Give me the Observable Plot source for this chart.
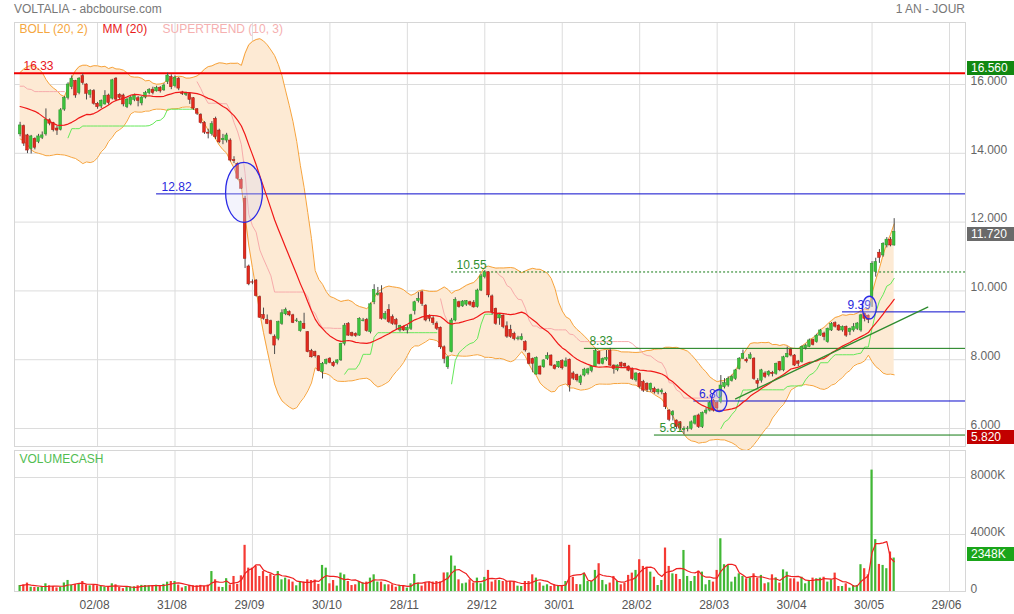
<!DOCTYPE html>
<html><head><meta charset="utf-8">
<script src="https://cdn.jsdelivr.net/npm/d3@7"></script>
<script src="https://cdn.jsdelivr.net/npm/@observablehq/plot@0.6"></script>
<style>
body{margin:0;background:#fff;font-family:"Liberation Sans",Arial,sans-serif;}
#wrap{position:relative;width:1014px;height:614px;overflow:hidden;background:#fff;}
.hdr{position:absolute;top:2px;font-size:12px;line-height:14px;color:#777;}
.tag{position:absolute;left:967px;width:47px;height:14px;line-height:14px;font-size:12px;color:#fff;padding-left:4px;box-sizing:border-box;}
svg{position:absolute;left:0;}
</style></head><body><div id="wrap"></div>
<script>
// ---------------- DATA ----------------
const open = [
14.55,14.79,14.52,14.13,14.42,14.33,14.45,14.55,14.96,14.88,
14.72,14.68,15.27,15.61,15.92,16.10,15.75,16.24,16.00,15.70,
15.81,15.44,15.36,15.42,15.68,15.59,16.17,15.70,15.68,15.34,
15.42,15.55,15.60,15.45,15.62,15.75,15.85,15.80,15.90,15.83,
16.07,16.22,15.95,16.17,15.75,15.70,15.72,15.60,15.28,15.12,
14.88,14.60,14.56,15.00,14.66,14.38,14.37,14.37,13.80,13.69,
13.23,12.68,10.71,10.25,10.30,9.82,9.30,9.16,9.12,8.67,
8.61,9.04,9.32,9.38,9.29,9.12,8.83,9.04,8.80,8.25,
8.22,8.10,7.64,7.88,8.03,7.91,7.90,7.98,8.46,9.04,
8.77,8.75,8.70,9.12,9.16,8.80,9.67,9.88,9.93,9.19,
9.45,9.24,9.15,8.85,8.95,8.85,8.90,9.41,9.70,9.96,
9.57,9.26,9.20,9.05,8.93,8.36,7.78,8.22,9.14,9.67,
9.55,9.60,9.67,9.66,9.53,10.01,10.40,10.54,9.84,9.48,
9.20,9.28,8.97,8.87,8.75,8.60,8.58,8.51,8.17,8.02,
7.57,7.80,7.78,8.02,8.12,7.83,7.78,7.96,7.80,8.00,
7.60,7.55,7.32,7.54,7.60,7.67,7.80,8.22,7.88,8.00,
8.25,7.83,7.70,7.90,7.88,7.80,7.73,7.40,7.59,7.35,
7.30,7.12,7.15,7.05,7.05,7.01,6.52,6.38,6.23,6.18,
5.95,5.98,5.99,6.14,6.38,6.04,6.45,6.52,6.81,6.74,
6.77,7.20,7.25,7.38,7.44,7.73,8.03,8.00,8.03,8.03,
7.38,7.39,7.60,7.55,7.62,7.59,7.93,7.69,8.07,8.29,
8.12,7.95,7.93,8.33,8.37,8.57,8.51,8.70,8.76,8.51,
8.85,9.06,8.99,8.85,8.95,8.80,8.85,8.90,8.85,9.33,
9.28,9.82,10.55,11.11,11.03,11.32,11.49,11.32];
const high = [
14.90,14.82,14.55,14.52,14.45,14.55,14.62,15.29,15.00,14.90,
14.78,15.30,15.65,16.05,16.25,16.12,16.20,16.30,16.02,15.85,
15.85,15.48,15.55,15.82,15.72,16.15,16.20,15.73,15.72,15.60,
15.65,15.72,15.65,15.65,15.80,15.88,15.92,15.95,15.94,16.02,
16.33,16.28,16.25,16.20,15.80,15.78,15.76,15.62,15.30,15.15,
14.92,14.70,14.92,15.05,14.70,14.55,14.58,14.42,13.90,13.72,
13.28,12.75,10.75,10.32,10.33,9.85,9.50,9.30,9.15,8.72,
9.12,9.45,9.50,9.42,9.32,9.20,9.12,9.35,8.82,8.30,
8.25,8.12,7.92,8.02,8.06,7.95,8.00,8.48,9.05,9.08,
8.80,8.78,9.22,9.20,9.20,9.65,10.18,10.10,10.15,9.40,
9.60,9.30,9.20,9.00,8.98,9.00,9.32,9.70,9.95,10.00,
9.60,9.30,9.25,9.10,8.95,8.40,8.10,9.20,9.80,9.70,
9.72,9.72,9.70,9.72,10.05,10.48,10.59,10.55,9.88,9.50,
9.32,9.30,9.10,9.00,8.80,8.68,8.75,8.55,8.20,8.05,
8.08,7.82,8.00,8.20,8.14,7.86,7.95,8.00,8.05,8.02,
7.65,7.58,7.55,7.75,7.75,7.82,8.30,8.25,8.05,8.27,
8.33,7.85,7.85,7.93,7.90,7.82,7.76,7.62,7.62,7.40,
7.33,7.32,7.20,7.15,7.15,7.05,6.55,6.52,6.25,6.20,
6.05,6.06,6.22,6.38,6.42,6.48,6.60,6.78,6.85,6.78,
7.54,7.45,7.50,7.55,7.72,8.06,8.28,8.05,8.20,8.06,
7.45,7.72,7.65,7.68,7.66,7.90,7.95,8.10,8.37,8.33,
8.15,7.98,8.40,8.45,8.60,8.60,8.74,8.88,8.80,8.92,
9.08,9.10,9.02,8.98,8.98,8.92,9.05,9.08,9.32,9.36,
9.30,10.85,10.95,11.20,11.40,11.55,11.55,12.10];
const low = [
14.48,14.20,13.99,13.98,14.10,14.28,14.40,14.50,14.80,14.62,
14.52,14.65,15.22,15.55,15.85,15.60,15.70,15.98,15.55,15.60,
15.40,15.28,15.30,15.40,15.40,15.55,15.50,15.55,15.35,15.30,
15.38,15.50,15.35,15.38,15.58,15.70,15.70,15.78,15.75,15.80,
16.00,15.85,15.90,15.82,15.68,15.65,15.42,15.25,15.10,14.85,
14.55,14.42,14.50,14.40,14.28,14.25,14.30,13.75,13.70,13.22,
12.95,10.65,10.15,10.18,9.82,9.20,9.15,9.02,8.72,8.15,
8.55,9.00,9.28,9.25,9.05,9.08,8.80,8.88,8.20,8.05,
8.05,7.65,7.44,7.85,7.88,7.78,7.85,7.95,8.40,8.68,
8.66,8.65,8.68,9.10,8.80,8.75,9.60,9.85,9.15,9.15,
9.05,9.00,8.85,8.80,8.82,8.75,8.85,9.30,9.65,9.55,
9.10,9.10,9.00,8.85,8.30,7.88,7.72,8.20,9.10,9.50,
9.52,9.55,9.55,9.50,9.50,9.98,10.35,9.80,9.30,9.00,
9.00,8.90,8.62,8.62,8.55,8.55,8.55,8.22,7.85,7.62,
7.55,7.55,7.75,7.98,7.80,7.70,7.75,7.70,7.78,7.06,
7.40,7.35,7.25,7.50,7.55,7.62,7.78,7.85,7.85,7.95,
7.80,7.58,7.65,7.75,7.75,7.65,7.40,7.35,7.15,7.05,
7.05,7.05,7.00,6.98,6.98,6.55,6.20,6.22,5.98,5.95,
5.82,5.90,5.95,6.10,6.00,6.00,6.40,6.48,6.48,6.50,
6.72,7.15,7.20,7.35,7.40,7.70,8.00,7.90,8.00,7.40,
7.15,7.32,7.45,7.50,7.50,7.55,7.65,7.65,8.05,8.08,
7.80,7.80,7.90,8.28,8.35,8.40,8.48,8.68,8.55,8.48,
8.82,8.92,8.82,8.80,8.65,8.70,8.80,8.85,8.80,9.10,
9.05,9.52,10.40,10.80,10.98,11.25,11.28,11.30];
const close = [
14.81,14.28,14.08,14.49,14.16,14.49,14.52,14.98,14.86,14.67,
14.66,15.25,15.61,16.00,16.17,15.68,16.17,16.04,15.73,15.81,
15.44,15.34,15.52,15.66,15.46,16.12,15.56,15.61,15.42,15.56,
15.62,15.68,15.52,15.62,15.75,15.84,15.75,15.90,15.80,15.97,
16.26,15.92,16.20,15.88,15.72,15.74,15.55,15.30,15.15,14.88,
14.60,14.57,14.85,14.47,14.32,14.42,14.52,13.79,13.77,13.26,
12.97,10.93,10.19,10.24,9.85,9.22,9.19,9.04,8.75,8.41,
9.09,9.35,9.45,9.29,9.07,9.14,9.09,8.90,8.22,8.07,
8.10,7.67,7.88,7.99,7.91,7.81,7.98,8.46,8.99,8.70,
8.69,8.69,9.19,9.14,8.83,9.61,10.03,9.92,9.19,9.33,
9.09,9.04,9.02,8.98,8.85,8.92,9.29,9.67,9.77,9.62,
9.14,9.19,9.06,8.90,8.36,8.02,8.07,9.14,9.74,9.53,
9.69,9.70,9.60,9.52,10.01,10.42,10.54,9.87,9.38,9.04,
9.30,8.95,8.67,8.66,8.60,8.62,8.66,8.27,7.88,7.88,
8.05,7.57,7.98,8.11,7.83,7.73,7.93,7.75,7.95,7.25,
7.45,7.40,7.51,7.71,7.72,7.80,8.25,7.88,8.02,8.05,
7.83,7.73,7.83,7.80,7.80,7.68,7.44,7.60,7.20,7.10,
7.12,7.30,7.05,7.12,7.10,6.62,6.25,6.48,6.04,6.00,
5.99,6.00,6.18,6.35,6.04,6.45,6.52,6.74,6.52,6.58,
7.25,7.32,7.44,7.50,7.69,8.03,8.17,7.95,8.13,7.44,
7.30,7.69,7.50,7.65,7.58,7.88,7.69,8.07,8.17,8.12,
7.83,7.88,8.37,8.41,8.56,8.43,8.70,8.85,8.66,8.90,
9.04,8.96,8.85,8.95,8.70,8.90,8.95,9.05,9.29,9.19,
9.16,10.79,10.84,10.96,11.37,11.49,11.32,11.72];
// volume in thousands (K)
const volume = [
420,470,590,300,280,280,350,540,400,350,
250,300,600,775,450,500,500,700,450,400,
430,400,350,300,330,540,470,280,200,300,
320,330,400,430,420,400,420,440,350,500,
655,700,700,450,250,350,420,400,400,430,
350,450,1400,820,300,280,900,450,1055,500,
1100,3240,1640,1640,1760,1055,1400,1055,1200,1055,
1400,820,940,820,660,400,660,660,820,770,
800,500,1830,1640,540,770,380,1290,1170,700,
420,470,700,610,660,940,1170,660,660,470,
470,470,300,420,380,230,540,1200,590,380,
590,660,660,700,660,1300,1310,2490,1780,820,
540,590,820,590,940,540,990,1480,660,770,
770,700,700,700,680,375,350,700,700,1170,
940,610,375,470,350,470,375,375,700,3240,
1000,490,470,1290,700,700,1480,1950,775,470,
590,1055,700,470,590,1130,1290,1480,2230,1760,
1710,1360,1000,420,775,3050,1760,1240,1200,840,
2880,1055,700,1055,1430,1360,470,775,660,1480,
3700,1880,1830,660,1000,1240,1055,890,960,1240,
940,1130,540,610,1170,960,590,1520,1360,890,
890,660,1000,540,775,940,890,940,1000,660,
820,1290,350,350,540,235,420,420,1880,1600,
1170,8520,3640,1900,1830,1600,2770,2348];
// Bollinger / MM values for the first 19 sessions (earlier history not shown)
const bollUpStart  = [16.35,16.45,16.52,16.55,16.52,16.45,16.35,16.15,16.00,15.90,15.82,15.70,15.65,15.90,16.20,16.40,16.52,16.56,16.56];
const bollMidStart = [15.36,15.33,15.30,15.26,15.22,15.16,15.08,15.00,14.93,14.87,14.82,14.81,14.82,14.85,14.90,14.96,15.03,15.08,15.13];
const bollLoStart  = [14.42,14.35,14.25,14.10,14.03,14.00,13.97,13.93,13.93,13.95,13.97,13.96,13.95,13.92,13.88,13.85,13.78,13.70,13.75];
// date ticks (session index -> label)
const dateTickBars   = [21,42,63,84,105,126,147,168,189,210,231,252];
const dateTickLabels = ["02/08","31/08","29/09","30/10","28/11","29/12","30/01","28/02","28/03","30/04","30/05","29/06"];
const priceTicks = [6,8,10,12,14,16];
const volumeTicks = [0,4000,8000];
// horizontal levels
const levelValues = [16.33, 12.82, 10.55, 9.39, 8.33, 6.80, 5.81];
const levelLabels = ["16.33","12.82","10.55","9.39","8.33","6.80","5.81"];
const levelStartBars = [-1.52, 37, 117, 223, 153, 182.7, 172];
const levelKinds = ["resist","blue","dotted","blue","green","blue","green"];
// ellipses (center session, center price, half-width in sessions, half-height in price)
const ellipseBars = [60.85, 189.7, 230.4];
const ellipsePrices = [12.85, 6.80, 9.50];
const ellipseHalfBars = [5.0, 2.1, 1.9];
const ellipseHalfPrices = [0.87, 0.32, 0.33];
// trend line
const trendBars = [194, 246.1];
const trendPrices = [6.86, 9.53];
// right tags
const tagValues = [16.56, 11.72, 5.82];
const tagLabels = ["16.560","11.720","5.820"];
const lastVolumeLabel = "2348K";

// ---------------- DERIVED ----------------
const N = close.length;
const bars = d3.range(N).map(i => ({i, o: open[i], h: high[i], l: low[i], c: close[i], v: volume[i], up: close[i] >= open[i]}));
const boll = d3.range(N).map(i => {
  if (i < 19) return {i, mid: bollMidStart[i], up: bollUpStart[i], lo: bollLoStart[i]};
  const w = close.slice(i - 19, i + 1);
  const m = d3.mean(w);
  const sd = Math.sqrt(d3.mean(w, x => (x - m) ** 2));
  return {i, mid: m, up: m + 2 * sd, lo: m - 2 * sd};
});
// supertrend (10, 3)
const st = [];
{
  let atr = 0, fu = 0, fl = 0, trendUp = false, seg = 0;
  for (let i = 0; i < N; i++) {
    const tr = i === 0 ? high[0] - low[0] : Math.max(high[i] - low[i], Math.abs(high[i] - close[i-1]), Math.abs(low[i] - close[i-1]));
    atr = i === 0 ? tr : (i < 10 ? (atr * i + tr) / (i + 1) : (atr * 9 + tr) / 10);
    const hl2 = (high[i] + low[i]) / 2, bu = hl2 + 3 * atr, bl = hl2 - 3 * atr;
    if (i === 0) { fu = bu; fl = bl; }
    else {
      const pu = fu, pl = fl;
      fu = (bu < pu || close[i-1] > pu) ? bu : pu;
      fl = (bl > pl || close[i-1] < pl) ? bl : pl;
    }
    if (trendUp && close[i] < fl) { trendUp = false; seg++; }
    else if (!trendUp && close[i] > fu) { trendUp = true; seg++; }
    st.push({i, v: trendUp ? fl : fu, up: trendUp, seg});
  }
}
const volMA = d3.range(N).map(i => ({i, v: d3.mean(volume.slice(Math.max(0, i - 4), i + 1))}));
const levels = levelValues.map((v, k) => ({v, label: levelLabels[k], start: levelStartBars[k], kind: levelKinds[k]}));

// ---------------- STYLE ----------------
const xDomain = [-1.52, 256.34];
const GREEN = "#3cc23c", RED = "#e42a1e";
const kindColor = {resist: "#f00000", blue: "#0a0acc", dotted: "#137a13", green: "#137a13"};
const kindText = {resist: "#e8141b", blue: "#2828dd", dotted: "#2f8f2f", green: "#2f8f2f"};
const FONT = "Liberation Sans, Arial, sans-serif";
const wrap = document.getElementById("wrap");

function hdr(text, css) { const d = document.createElement("div"); d.className = "hdr"; d.textContent = text; Object.assign(d.style, css); wrap.appendChild(d); }
hdr("VOLTALIA - abcbourse.com", {left: "14px"});
hdr("1 AN - JOUR", {right: "49px"});

const main = Plot.plot({
  width: 1014, height: 432,
  marginLeft: 14, marginRight: 49, marginTop: 4, marginBottom: 4,
  style: {fontFamily: FONT, fontSize: "12px", background: "transparent", overflow: "visible"},
  x: {domain: xDomain, axis: null, label: null},
  y: {domain: [5.477, 17.802], label: null},
  marks: [
    Plot.gridY(priceTicks, {stroke: "#dcdcdc", strokeOpacity: 1}),
    Plot.gridX(dateTickBars, {stroke: "#dcdcdc", strokeOpacity: 1}),
    Plot.frame({stroke: "#d6d6d6"}),
    Plot.areaY(boll, {x: "i", y1: "lo", y2: "up", fill: "#fdead4", fillOpacity: 1}),
    Plot.line(boll, {x: "i", y: "up", stroke: "#f7a33b", strokeWidth: 1}),
    Plot.line(boll, {x: "i", y: "lo", stroke: "#f7a33b", strokeWidth: 1}),
    Plot.line(st, {x: "i", y: "v", z: "seg", stroke: d => d.up ? "#66e85a" : "#f7abab", strokeWidth: 1}),
    Plot.ruleY(levels.filter(d => d.kind !== "dotted"), {y: "v", x1: "start", x2: xDomain[1], stroke: d => kindColor[d.kind], strokeWidth: d => d.kind === "resist" ? 2 : 1}),
    Plot.ruleY(levels.filter(d => d.kind === "dotted"), {y: "v", x1: "start", x2: xDomain[1], stroke: d => kindColor[d.kind], strokeWidth: 1, strokeDasharray: "2,2"}),
    Plot.ruleX(bars, {x: "i", y1: "l", y2: "h", stroke: "#4a4a4a", strokeWidth: 1}),
    Plot.rect(bars, {x1: d => d.i - 0.36, x2: d => d.i + 0.36, y1: "o", y2: "c",
      fill: d => d.up ? GREEN : RED, stroke: d => d.up ? "#2d8f2d" : "#a01a10", strokeWidth: 0.5}),
    Plot.line(boll, {x: "i", y: "mid", stroke: "#f01818", strokeWidth: 1.2}),
    Plot.line(trendBars.map((b, k) => ({b, p: trendPrices[k]})), {x: "b", y: "p", stroke: "#2e8b2e", strokeWidth: 1.3}),
    Plot.text(levels.filter(d => d.kind === "resist"), {x: "start", y: "v", text: "label", dx: 9, dy: -7, textAnchor: "start", fill: d => kindText[d.kind], fontSize: 12}),
    Plot.text(levels.filter(d => d.kind !== "resist"), {x: "start", y: "v", text: "label", dx: 5, dy: -7, textAnchor: "start", fill: d => kindText[d.kind], fontSize: 12}),
    Plot.text(["BOLL (20, 2)"], {text: d => d, frameAnchor: "top-left", dx: 5, dy: 7, lineAnchor: "middle", textAnchor: "start", fill: "#f5a640", fontSize: 12}),
    Plot.text(["MM (20)"], {text: d => d, frameAnchor: "top-left", dx: 88, dy: 7, lineAnchor: "middle", textAnchor: "start", fill: "#e81b1b", fontSize: 12}),
    Plot.text(["SUPERTREND (10, 3)"], {text: d => d, frameAnchor: "top-left", dx: 148, dy: 7, lineAnchor: "middle", textAnchor: "start", fill: "#f5b0b0", fontSize: 12}),
    Plot.axisY(priceTicks, {anchor: "right", label: null, tickSize: 0, tickPadding: 5, tickFormat: d3.format(".3f"), fill: "#666", dy: -3.5, fontSize: 12})
  ]
});
main.style.top = "18px";
wrap.appendChild(main);

// ellipses positioned with the plot's own scales
{
  const sx = main.scale("x"), sy = main.scale("y");
  const svg = d3.select(main);
  ellipseBars.forEach((b, k) => {
    const cx = sx.apply(b), cy = sy.apply(ellipsePrices[k]);
    const rx = Math.abs(sx.apply(b + ellipseHalfBars[k]) - cx);
    const ry = Math.abs(sy.apply(ellipsePrices[k] + ellipseHalfPrices[k]) - cy);
    svg.append("ellipse").attr("cx", cx).attr("cy", cy).attr("rx", rx).attr("ry", ry)
      .attr("fill", "rgb(215,215,245)").attr("fill-opacity", 0.3).attr("stroke", "#2a2ae6").attr("stroke-width", 1.3);
  });
}

const labelByBar = new Map(dateTickBars.map((b, k) => [b, dateTickLabels[k]]));
const vol = Plot.plot({
  width: 1014, height: 165,
  marginLeft: 14, marginRight: 49, marginTop: 1, marginBottom: 23,
  style: {fontFamily: FONT, fontSize: "12px", background: "transparent", overflow: "visible"},
  x: {domain: xDomain, label: null},
  y: {domain: [0, 9895], label: null},
  marks: [
    Plot.gridY([4000, 8000], {stroke: "#dcdcdc", strokeOpacity: 1}),
    Plot.gridX(dateTickBars, {stroke: "#dcdcdc", strokeOpacity: 1}),
    Plot.frame({stroke: "#d6d6d6"}),
    Plot.rectY(bars, {x1: d => d.i - 0.3, x2: d => d.i + 0.3, y: "v", fill: d => d.up ? "#41b835" : "#f53a33"}),
    Plot.line(volMA, {x: "i", y: "v", stroke: "#ee2020", strokeWidth: 1.2}),
    Plot.text(["VOLUMECASH"], {text: d => d, frameAnchor: "top-left", dx: 5, dy: 9, lineAnchor: "middle", textAnchor: "start", fill: "#52bd52", fontSize: 12}),
    Plot.axisY(volumeTicks, {anchor: "right", label: null, tickSize: 0, tickPadding: 5, tickFormat: d => d === 0 ? "0" : d + "K", fill: "#666", dy: -2, fontSize: 12}),
    Plot.axisX(dateTickBars, {anchor: "bottom", label: null, tickSize: 0, tickPadding: 9, tickFormat: d => labelByBar.get(d), fill: "#555", dx: -3, fontSize: 12})
  ]
});
vol.style.top = "449px";
wrap.appendChild(vol);

// right-hand value tags
function tag(text, centerY, bg) {
  const d = document.createElement("div"); d.className = "tag"; d.textContent = text;
  d.style.top = (centerY - 7) + "px"; d.style.background = bg; wrap.appendChild(d);
}
{
  const sy = main.scale("y");
  const bgs = ["#118811", "#6a6a6a", "#c20000"];
  tagValues.forEach((v, k) => tag(tagLabels[k], 18 + sy.apply(v) + 3, bgs[k]));
  const vy = vol.scale("y");
  tag(lastVolumeLabel, 449 + vy.apply(volume[N - 1]) - 4, "#1aa51a");
}
</script></body></html>
